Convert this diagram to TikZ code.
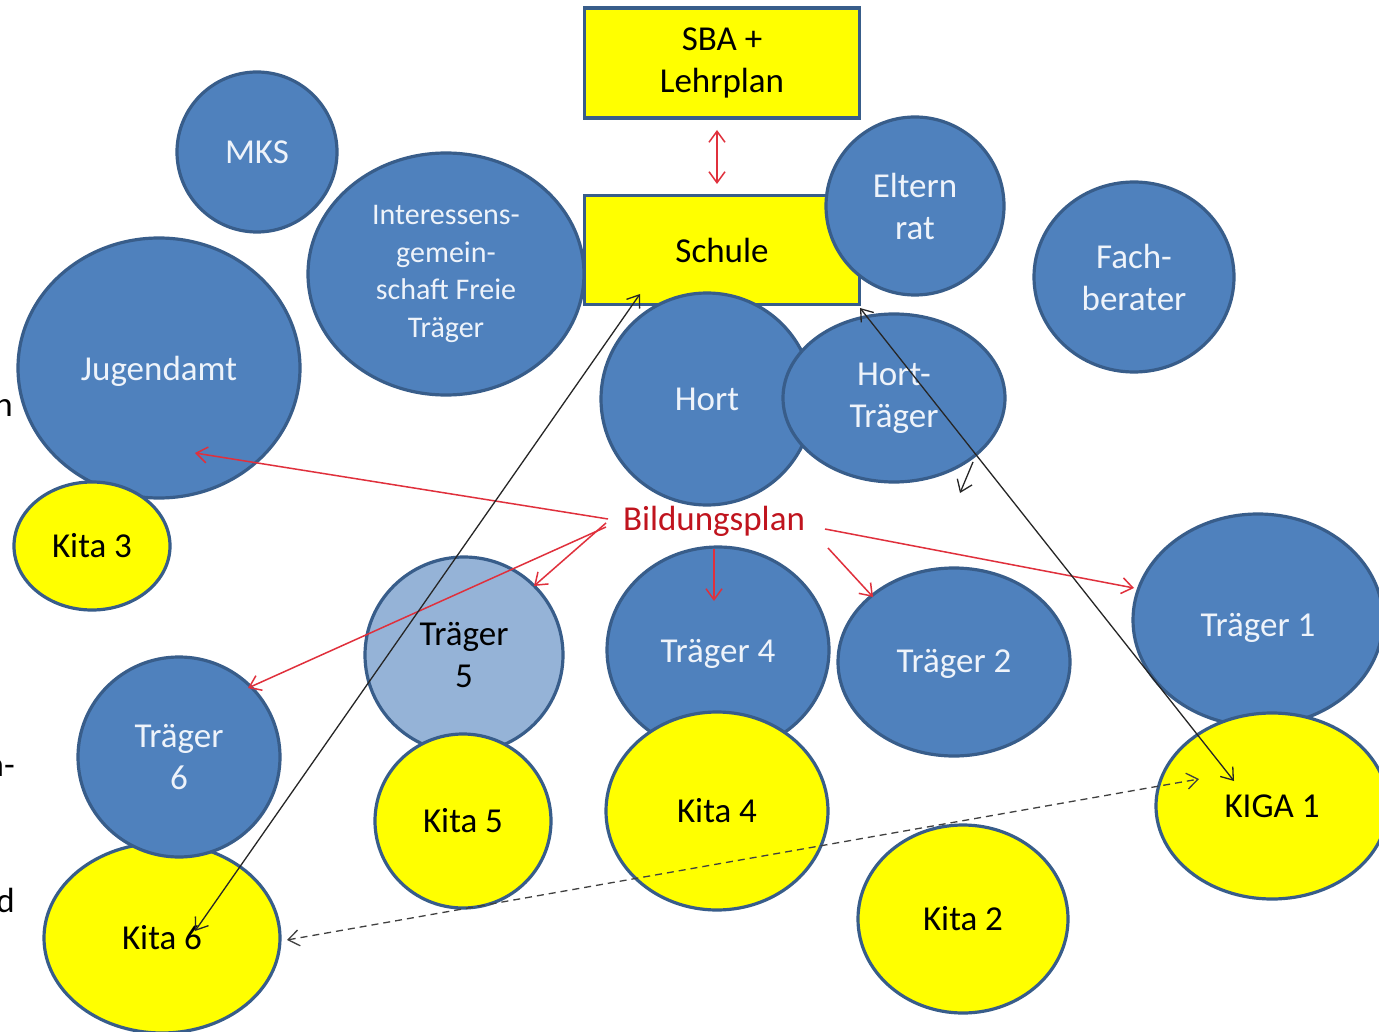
\documentclass[tikz,border=0pt]{standalone}
\usepackage{fontspec}
\setmainfont{Carlito}
\usetikzlibrary{shapes.geometric,arrows.meta}
\definecolor{bfill}{HTML}{4F81BD}
\definecolor{lfill}{HTML}{95B3D7}
\definecolor{edge}{HTML}{385D8A}
\definecolor{yfill}{HTML}{FFFF00}
\definecolor{btext}{HTML}{EEF3FA}
\definecolor{darkred}{HTML}{C0141E}
\definecolor{redline}{HTML}{E0303C}
\newcommand{\lowtext}[2]{\smash{\raisebox{-#1pt}{#2}}}
\tikzset{
  blob/.style={ellipse, draw=edge, line width=3.2pt, inner sep=0pt, align=center,
     font=\fontsize{35}{42}\selectfont},
  bluecirc/.style={blob, fill=bfill, text=btext},
  lightcirc/.style={blob, fill=lfill, text=black},
  yellowcirc/.style={blob, fill=yfill, text=black},
  yellowbox/.style={rectangle, draw=edge, line width=3.2pt, fill=yfill, inner sep=0pt,
     align=center, font=\fontsize{35}{42}\selectfont},
  redarrow/.style={draw=redline, line width=1.5pt, -{Straight Barb[length=11pt,width=16pt]}},
  redboth/.style={draw=redline, line width=1.5pt, {Straight Barb[length=11pt,width=16pt]}-{Straight Barb[length=11pt,width=16pt]}},
  blackboth/.style={draw=black!85, line width=1.3pt, {Straight Barb[length=11pt,width=16pt]}-{Straight Barb[length=11pt,width=16pt]}},
  blackarrow/.style={draw=black!85, line width=1.3pt, -{Straight Barb[length=11pt,width=16pt]}},
  dashboth/.style={draw=black!75, line width=1.3pt, dash pattern=on 7pt off 5pt,
     {Straight Barb[length=11pt,width=16pt]}-{Straight Barb[length=11pt,width=16pt]}},
  edgetext/.style={font=\fontsize{35}{42}\selectfont, text=black, inner sep=0pt, anchor=east}
}
\begin{document}
\begin{tikzpicture}[x=1pt,y=-1pt]
\clip (0,0) rectangle (1379,1032);
\fill[white] (0,0) rectangle (1379,1032);

% left-edge cut-off texts
\node[edgetext] (ltA) at (13,408) {n};
\node[edgetext] (ltB) at (15,768) {n-};
\node[edgetext] (ltC) at (15,900) {d};

% boxes
\node[yellowbox, minimum width=275pt, minimum height=109pt] (schule) at (722,250) {Schule};
\node[yellowbox, minimum width=275pt, minimum height=110pt] (sba) at (722,63) {SBA +\\Lehrplan};

% circles
\node[bluecirc, minimum width=160pt, minimum height=160pt] (mks) at (257,152) {MKS};
\node[bluecirc, minimum width=276pt, minimum height=242pt, font=\fontsize{30}{37.5}\selectfont] (ig) at (446,274) {Interessens-\\gemein-\\schaft Freie\\Träger};
\node[bluecirc, minimum width=282pt, minimum height=260pt] (jug) at (159,368) {\lowtext{12}{Jugendamt}};
\node[yellowcirc, minimum width=156pt, minimum height=128pt] (kita3) at (92,546) {Kita 3};
\node[bluecirc, minimum width=212pt, minimum height=212pt] (hort) at (707,399) {Hort};
\node[bluecirc, minimum width=178pt, minimum height=178pt] (eltern) at (915,206) {Eltern\\rat};
\node[bluecirc, minimum width=222pt, minimum height=168pt] (hortt) at (894,398) {Hort-\\Träger};
\node[bluecirc, minimum width=200pt, minimum height=190pt] (fach) at (1134,277) {Fach-\\berater};

\node[lightcirc, minimum width=198pt, minimum height=196pt] (tr5) at (464,655) {Träger\\5};
\node[yellowcirc, minimum width=176pt, minimum height=174pt] (kita5) at (463,821) {Kita 5};
\node[bluecirc, minimum width=222pt, minimum height=206pt] (tr4) at (718,650) {\lowtext{12}{Träger 4}};
\node[yellowcirc, minimum width=222pt, minimum height=198pt] (kita4) at (717,811) {Kita 4};
\node[bluecirc, minimum width=232pt, minimum height=188pt] (tr2) at (954,662) {\lowtext{10}{Träger 2}};
\node[yellowcirc, minimum width=210pt, minimum height=188pt] (kita2) at (963,919) {Kita 2};
\node[bluecirc, minimum width=250pt, minimum height=212pt] (tr1) at (1258,620) {\lowtext{16}{Träger 1}};
\node[yellowcirc, minimum width=232pt, minimum height=186pt] (kiga1) at (1272,806) {KIGA 1};
\node[yellowcirc, minimum width=236pt, minimum height=190pt] (kita6) at (162,938) {Kita 6};
\node[bluecirc, minimum width=202pt, minimum height=200pt] (tr6) at (179,757) {Träger\\6};

% Bildungsplan
\node[font=\fontsize{35}{42}\selectfont, text=darkred, inner sep=0pt] (bild) at (714,521) {Bildungsplan};

% arrow end points
\coordinate (sbaE) at (717,130);
\coordinate (schE) at (717,184);
\coordinate (bL1) at (608,519);
\coordinate (bL2) at (606,523);
\coordinate (bL3) at (606,527);
\coordinate (bD) at (714,549);
\coordinate (bR1) at (828,548);
\coordinate (bR2) at (825,529);
\coordinate (jugE) at (195,453);
\coordinate (tr5E) at (534,586);
\coordinate (tr6E) at (248,688);
\coordinate (tr4E) at (714,601);
\coordinate (tr2E) at (873,597);
\coordinate (tr1E) at (1134,588);
\coordinate (schBL) at (640,294);
\coordinate (kita6E) at (195,931);
\coordinate (schBR) at (860,308);
\coordinate (kigaE) at (1234,781);
\coordinate (hortS) at (973,462);
\coordinate (hortE) at (960,493);
\coordinate (kita6D) at (287,940);
\coordinate (kigaD) at (1199,779);

% red arrows
\draw[redboth] (sbaE) -- (schE);
\draw[redarrow] (bL1) -- (jugE);
\draw[redarrow] (bL2) -- (tr5E);
\draw[redarrow] (bL3) -- (tr6E);
\draw[redarrow] (bD) -- (tr4E);
\draw[redarrow] (bR1) -- (tr2E);
\draw[redarrow] (bR2) -- (tr1E);

% black arrows
\draw[blackboth] (schBL) -- (kita6E);
\draw[blackboth] (schBR) -- (kigaE);
\draw[blackarrow] (hortS) -- (hortE);
\draw[dashboth] (kita6D) -- (kigaD);
\end{tikzpicture}
\end{document}
